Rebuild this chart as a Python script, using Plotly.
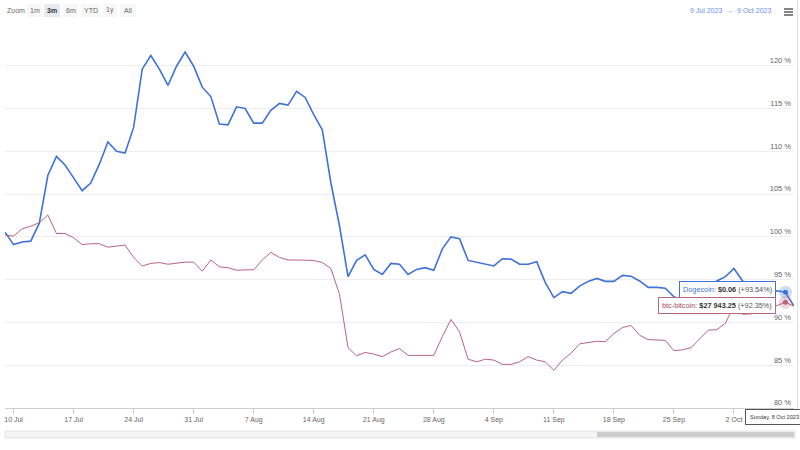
import pandas as pd
import plotly.graph_objects as go

# ---------------- data ----------------
dates = pd.date_range("2023-07-09", "2023-10-09", freq="D")

dogecoin = [100.56, 99.1, 99.4, 99.5, 101.6, 107.2, 109.4, 108.4, 106.9, 105.4,
            106.3, 108.5, 111.1, 110.0, 109.8, 112.8, 119.6, 121.2, 119.6, 117.7,
            119.95, 121.6, 119.95, 117.5, 116.4, 113.2, 113.1, 115.2, 115.0, 113.3,
            113.3, 114.8, 115.6, 115.4, 117.0, 116.3, 114.3, 112.5, 106.3, 101.3,
            95.35, 97.25, 97.9, 96.2, 95.6, 96.9, 96.8, 95.6, 96.2, 96.4,
            96.1, 98.6, 100.0, 99.8, 97.25, 97.05, 96.8, 96.6, 97.45, 97.4,
            96.8, 96.8, 97.1, 94.65, 92.9, 93.6, 93.4, 94.25, 94.8, 95.15,
            94.8, 94.8, 95.5, 95.4, 94.85, 94.1, 94.1, 94.0, 93.0, 92.6,
            92.4, 92.9, 94.2, 94.85, 95.35, 96.3, 94.85, 93.9, 93.5, 93.3,
            93.7, 93.54, 91.9]

bitcoin = [100.2, 100.1, 100.95, 101.25, 101.65, 102.55, 100.4, 100.4, 99.9, 99.1,
           99.2, 99.2, 98.8, 98.9, 99.05, 97.6, 96.6, 96.9, 97.0, 96.8,
           96.9, 97.05, 97.05, 96.0, 97.3, 96.5, 96.4, 96.1, 96.15, 96.15,
           97.3, 98.2, 97.6, 97.3, 97.3, 97.3, 97.25, 97.0, 96.3, 93.3,
           87.05, 86.1, 86.5, 86.3, 86.0, 86.55, 86.95, 86.15, 86.15, 86.2,
           86.15, 88.35, 90.35, 88.9, 85.7, 85.4, 85.7, 85.6, 85.1, 85.1,
           85.4, 86.0, 85.6, 85.4, 84.4, 85.6, 86.4, 87.5, 87.65, 87.8,
           87.75, 88.7, 89.4, 89.65, 88.5, 88.0, 87.95, 87.9, 86.7, 86.8,
           87.05, 88.1, 89.1, 89.15, 89.9, 92.0, 90.95, 91.0, 91.2, 91.6,
           92.0, 92.35, 91.9]

x_tick_dates = pd.date_range("2023-07-10", "2023-10-02", freq="7D")
x_tick_labels = [d.strftime("%-d %b") for d in x_tick_dates]
y_tick_vals = [80, 85, 90, 95, 100, 105, 110, 115, 120, 125]
y_tick_labels = [f"{v} %" if v < 125 else "" for v in y_tick_vals]

hover_idx = 91  # 8 Oct 2023
doge_price = "$0.06"
btc_price = "$27 943.25"
zoom_buttons = ["1m", "3m", "6m", "YTD", "1y", "All"]

# ---------------- colours / fonts ----------------
BLUE = "#3f72d9"
RED = "#b9657a"
FONT = "Liberation Sans, Arial, sans-serif"

# plot area in pixels
L, R, T, B = 5, 794, 23, 408
W, H = 800, 450

def px(x):
    return (x - L) / (R - L)

def py(y):
    return (B - y) / (B - T)

fig = go.Figure()

fig.add_trace(go.Scatter(x=dates, y=dogecoin, mode="lines", name="Dogecoin",
                         line=dict(color=BLUE, width=1.6), hoverinfo="skip"))
fig.add_trace(go.Scatter(x=dates, y=bitcoin, mode="lines", name="btc-bitcoin",
                         line=dict(color=RED, width=1), hoverinfo="skip"))

# hover halos and markers
for series, col, halo in [(dogecoin, BLUE, "rgba(63,114,217,0.25)"),
                          (bitcoin, RED, "rgba(185,101,122,0.25)")]:
    fig.add_trace(go.Scatter(x=[dates[hover_idx]], y=[series[hover_idx]], mode="markers",
                             marker=dict(size=13, color=halo), hoverinfo="skip"))
    fig.add_trace(go.Scatter(x=[dates[hover_idx]], y=[series[hover_idx]], mode="markers",
                             marker=dict(size=5, color=col), hoverinfo="skip"))

shapes = []
annotations = []

# zoom label and buttons
annotations.append(dict(x=px(5), y=py(10.5), xref="paper", yref="paper", text="Zoom",
                        showarrow=False, xanchor="left", yanchor="middle",
                        font=dict(size=7, color="#666", family=FONT)))
btn_x = [27, 44, 63, 81, 103, 120]
btn_w = [15, 16, 15, 19, 14, 16]
for lab, bx, bw in zip(zoom_buttons, btn_x, btn_w):
    sel = lab == "3m"
    shapes.append(dict(type="rect", xref="paper", yref="paper",
                       x0=px(bx), x1=px(bx + bw), y0=py(17), y1=py(4),
                       fillcolor="#e6e9ef" if sel else "#f7f7f7", line=dict(width=0), layer="below"))
    annotations.append(dict(x=px(bx + bw / 2), y=py(10.5), xref="paper", yref="paper",
                            text=f"<b>{lab}</b>" if sel else lab, showarrow=False,
                            xanchor="center", yanchor="middle",
                            font=dict(size=7, color="#333" if sel else "#666", family=FONT)))

# date range
annotations.append(dict(x=px(773), y=py(10.5), xref="paper", yref="paper",
                        text="9 Jul 2023  →  9 Oct 2023", showarrow=False,
                        xanchor="right", yanchor="middle",
                        font=dict(size=7, color="#6d8ff0", family=FONT)))
# hamburger icon
for yy in [9, 12, 15]:
    shapes.append(dict(type="line", xref="paper", yref="paper",
                       x0=px(784), x1=px(793), y0=py(yy), y1=py(yy),
                       line=dict(color="#666", width=1.6)))

# right border line
shapes.append(dict(type="line", xref="paper", yref="paper", x0=px(797.5), x1=px(797.5),
                   y0=py(0), y1=py(410), line=dict(color="#e0e0e0", width=1)))

# scrollbar / navigator
shapes.append(dict(type="rect", xref="paper", yref="paper", x0=px(5), x1=px(795),
                   y0=py(438), y1=py(431), fillcolor="#f4f4f4",
                   line=dict(color="#e3e3e3", width=1), layer="below"))
shapes.append(dict(type="rect", xref="paper", yref="paper", x0=px(597), x1=px(794),
                   y0=py(437), y1=py(432), fillcolor="#cccccc", line=dict(width=0)))

# tooltips
annotations.append(dict(x=dates[hover_idx], y=dogecoin[hover_idx], xref="x", yref="y",
                        text=f"<span style='color:{BLUE}'>Dogecoin:</span> <b>{doge_price}</b> "
                             f"<span style='color:#555'>(+{dogecoin[hover_idx]:.2f}%)</span>",
                        showarrow=False, xanchor="right", yanchor="middle", xshift=-9, yshift=3,
                        bgcolor="rgba(255,255,255,0.95)", bordercolor=BLUE, borderwidth=1, borderpad=3,
                        font=dict(size=7.3, color="#333", family=FONT)))
annotations.append(dict(x=dates[hover_idx], y=bitcoin[hover_idx], xref="x", yref="y",
                        text=f"<span style='color:#a84a60'>btc-bitcoin:</span> <b>{btc_price}</b> "
                             f"<span style='color:#555'>(+{bitcoin[hover_idx]:.2f}%)</span>",
                        showarrow=False, xanchor="right", yanchor="middle", xshift=-9, yshift=-3,
                        bgcolor="rgba(255,255,255,0.95)", bordercolor=RED, borderwidth=1, borderpad=3,
                        font=dict(size=7.3, color="#333", family=FONT)))
# date tooltip at x axis
annotations.append(dict(x=dates[hover_idx], y=0, xref="x", yref="paper",
                        text=dates[hover_idx].strftime("%A, %-d %b %Y"),
                        showarrow=False, xanchor="center", yanchor="top", xshift=-11, yshift=-1,
                        bgcolor="white", bordercolor="#555", borderwidth=1, borderpad=4,
                        font=dict(size=5.6, color="#333", family=FONT)))

fig.update_layout(
    width=W, height=H,
    margin=dict(l=L, r=W - R, t=T, b=H - B),
    paper_bgcolor="white", plot_bgcolor="white",
    showlegend=False,
    font=dict(family=FONT, size=7, color="#666"),
    shapes=shapes, annotations=annotations,
    xaxis=dict(type="date", range=[dates[0], dates[-1]],
               tickvals=list(x_tick_dates), ticktext=x_tick_labels,
               ticks="outside", ticklen=5, tickcolor="#ccc", tickwidth=1,
               showgrid=False, showline=True, linecolor="#ccc", linewidth=1,
               tickfont=dict(size=7, color="#666"), zeroline=False),
    yaxis=dict(side="right", range=[80, 125], tickvals=y_tick_vals, ticktext=y_tick_labels,
               ticklabelposition="inside top",
               showgrid=True, gridcolor="#eeeeee", gridwidth=1,
               showline=False, zeroline=False, ticks="",
               tickfont=dict(size=7.5, color="#666")),
)

fig.write_html("out.html")
